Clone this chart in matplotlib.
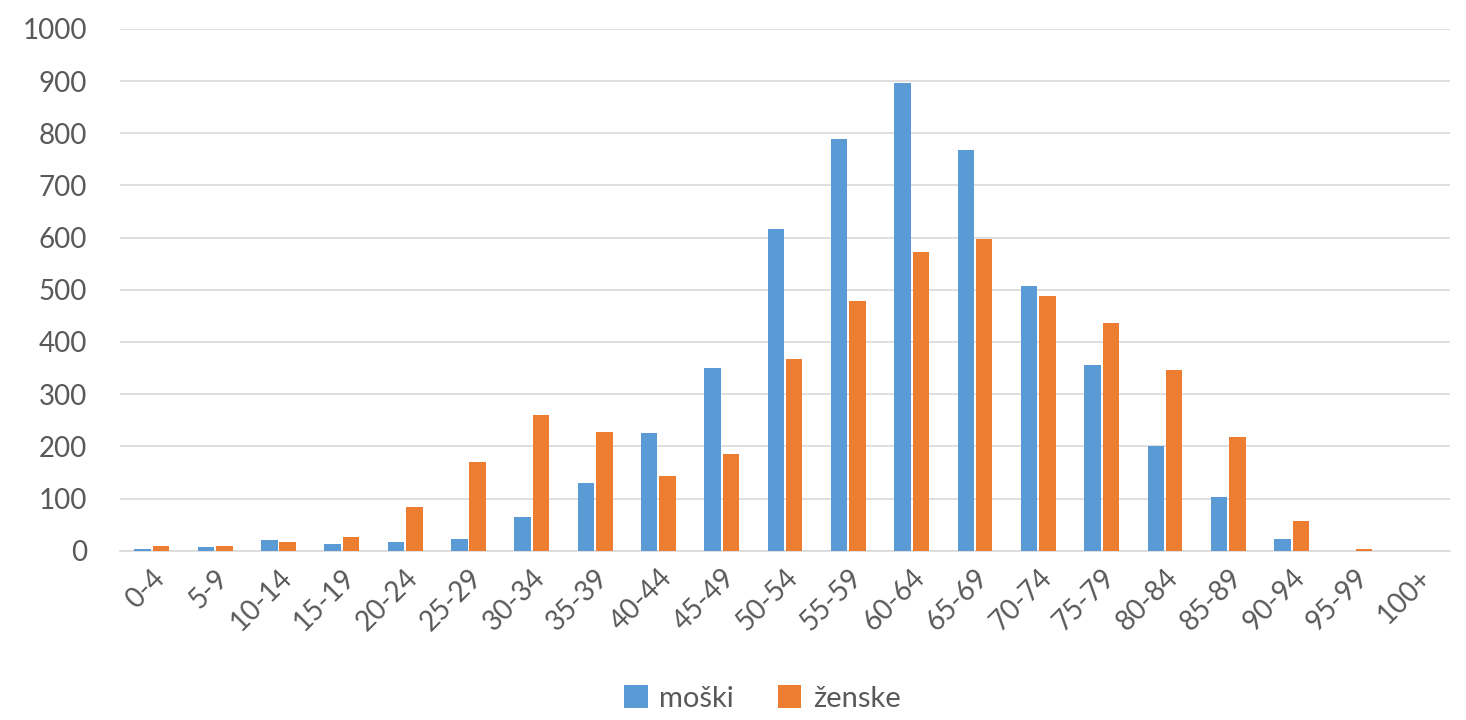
import numpy as np
from matplotlib import pyplot as plt

ages = ['0-4', '5-9', '10-14', '15-19', '20-24', '25-29', '30-34', '35-39',
        '40-44', '45-49', '50-54', '55-59', '60-64', '65-69', '70-74',
        '75-79', '80-84', '85-89', '90-94', '95-99', '100+']
moski = [4, 7, 20, 13, 17, 23, 65, 130, 225, 350, 617, 788, 897, 768, 507,
         356, 200, 104, 23, 0, 0]
zenske = [10, 10, 17, 26, 84, 170, 260, 228, 143, 185, 368, 478, 572, 598,
          488, 436, 346, 218, 58, 4, 0]

plt.rcParams['font.family'] = ['Lato', 'DejaVu Sans']
grey = '#595959'

fig = plt.figure(figsize=(14.66, 7.2), dpi=100)
ax = fig.add_axes([0.082, 0.235, 0.907, 0.725])

x = np.arange(len(ages))
w = 0.26
ax.bar(x - 0.145, moski, w, color='#5B9BD5', label='moški', zorder=3)
ax.bar(x + 0.145, zenske, w, color='#ED7D31', label='ženske', zorder=3)

ax.set_xlim(-0.5, len(ages) - 0.5)
ax.set_ylim(0, 1000)
ax.set_yticks(range(0, 1001, 100))
ax.grid(axis='y', color='#d9d9d9', linewidth=1.2, zorder=0)
for s in ['top', 'right', 'left']:
    ax.spines[s].set_visible(False)
ax.spines['bottom'].set_color('#d9d9d9')
ax.spines['bottom'].set_linewidth(1.2)

ax.set_xticks(x)
ax.set_xticklabels(ages, rotation=45, ha='right', rotation_mode='anchor')
ax.tick_params(axis='both', length=0, labelsize=20, colors=grey, pad=10)
ax.tick_params(axis='y', pad=24)

fig.legend(loc='lower center', ncol=2, frameon=False, fontsize=21,
           labelcolor=grey, handlelength=0.8, handleheight=0.8,
           columnspacing=1.5, handletextpad=0.4, bbox_to_anchor=(0.52, -0.025))

fig.savefig('out.png', dpi=100)
